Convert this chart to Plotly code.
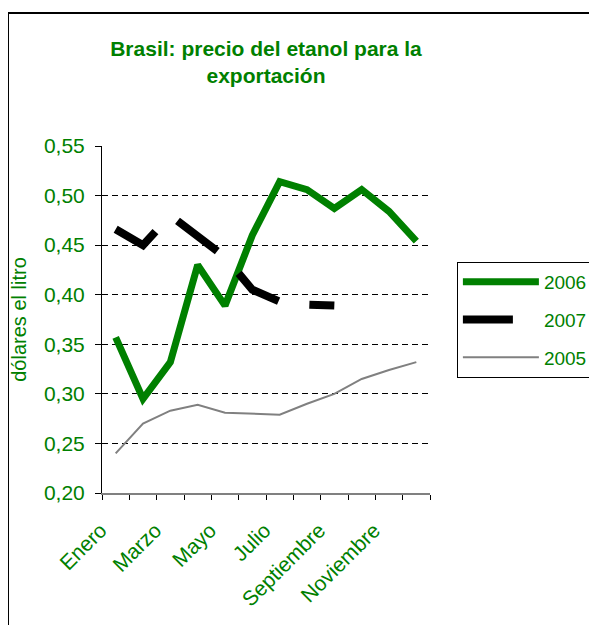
import plotly.graph_objects as go

meses = ['Enero', 'Febrero', 'Marzo', 'Abril', 'Mayo', 'Junio', 'Julio',
         'Agosto', 'Septiembre', 'Octubre', 'Noviembre', 'Diciembre']
precio_2006 = [0.357, 0.295, 0.332, 0.430, 0.389, 0.460, 0.514, 0.506, 0.487, 0.506, 0.484, 0.454]
precio_2007 = [0.466, 0.450, 0.480, 0.459, 0.438, 0.405, 0.393, 0.390, 0.389, None, None, None]
precio_2005 = [0.240, 0.270, 0.283, 0.289, 0.281, 0.280, 0.279, 0.290, 0.300, 0.315, 0.324, 0.332]

verde = '#008000'
fuente = 'Liberation Sans, Arial, sans-serif'
x = list(range(1, len(meses) + 1))

fig = go.Figure()
fig.add_trace(go.Scatter(x=x, y=precio_2006, name='2006', mode='lines', legendgroup='a',
                         line=dict(color=verde, width=7)))
fig.add_trace(go.Scatter(x=x, y=precio_2007, name='2007', mode='lines', legendgroup='b',
                         line=dict(color='black', width=8, dash='50px,31px')))
fig.add_trace(go.Scatter(x=x, y=precio_2005, name='2005', mode='lines', legendgroup='c',
                         line=dict(color='#808080', width=2)))

# marco exterior del gráfico
fig.add_shape(type='rect', xref='paper', yref='paper',
              x0=-0.2866, x1=1.6, y0=-0.45, y1=1.383,
              line=dict(color='black', width=2), layer='below')

fig.update_layout(
    width=597, height=625,
    margin=dict(l=94, r=175, t=138, b=140, autoexpand=False),
    paper_bgcolor='white', plot_bgcolor='white',
    separators=',.',
    font=dict(family=fuente, color=verde, size=20),
    title=dict(text='<b>Brasil: precio del etanol para la<br>exportación</b>',
               x=0.5, xref='paper', xanchor='center',
               y=0.924, yref='container', yanchor='top',
               font=dict(size=21, color=verde, family=fuente)),
    legend=dict(x=1.082, y=0.666, xanchor='left', yanchor='top',
                bordercolor='black', borderwidth=1, bgcolor='white',
                font=dict(size=19, color=verde), itemwidth=76,
                traceorder='grouped', tracegroupgap=10),
    showlegend=True,
)

fig.update_xaxes(range=[0.5, 12.5], tickmode='array', tickvals=x[::2], ticktext=meses[::2],
                 tickangle=-45, ticks='', showgrid=False, automargin=False,
                 ticklabelshift=-15, ticklabelstandoff=15,
                 showline=True, linecolor='#808080', linewidth=1.5,
                 minor=dict(tickmode='array', tickvals=[i + 0.5 for i in range(0, 13)],
                            ticks='outside', ticklen=5, tickcolor='black', showgrid=False),
                 tickfont=dict(size=21, color=verde))
fig.update_yaxes(range=[0.20, 0.55], dtick=0.05, tick0=0.20, tickformat='.2f',
                 showline=True, linecolor='black', linewidth=1, automargin=False,
                 ticks='outside', ticklen=6, tickcolor='black', ticklabelstandoff=6,
                 showgrid=True, gridcolor='black', gridwidth=1, griddash='6px,4px',
                 zeroline=False,
                 title=dict(text='dólares el litro', font=dict(size=20, color=verde), standoff=14),
                 tickfont=dict(size=21, color=verde))

fig.write_html('out.html')
